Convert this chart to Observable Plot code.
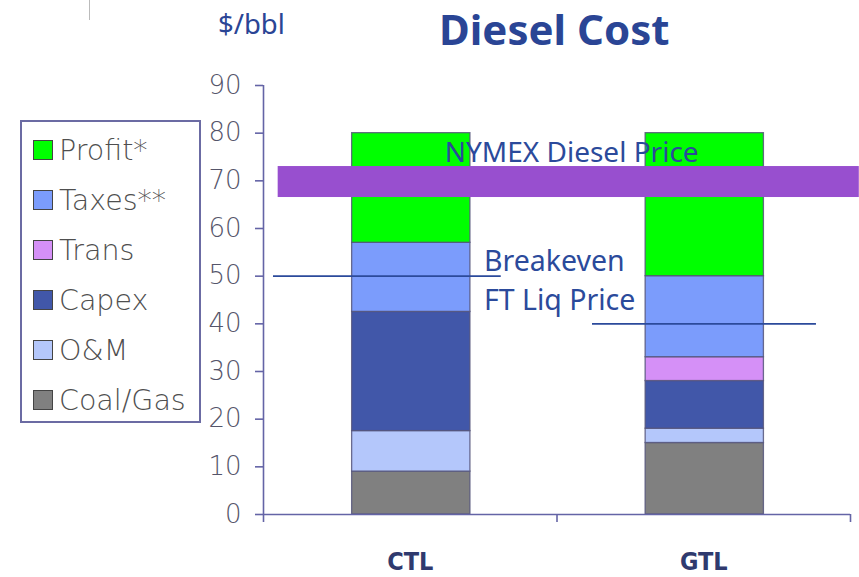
<!DOCTYPE html>
<html>
<head>
<meta charset="utf-8">
<script src="https://cdn.jsdelivr.net/npm/d3@7"></script>
<script src="https://cdn.jsdelivr.net/npm/@observablehq/plot@0.6"></script>
<style>
  html, body { margin: 0; padding: 0; background: #fff; }
  #wrap { position: relative; width: 859px; height: 577px; overflow: hidden; background: #fff; }
  #chart { position: absolute; left: 0; top: 0; }
  .title { position: absolute; font-family: "Noto Sans", sans-serif; color: #2a4595; white-space: nowrap; }
  #legend { position: absolute; left: 20px; top: 120px; width: 177px; height: 299px;
            border: 2px solid #6b6ba3; background: #fff; box-sizing: content-box; }
  .li { position: absolute; left: 11px; height: 30px; display: flex; align-items: center;
        font-family: "DejaVu Sans", sans-serif; font-weight: 200; font-size: 28.5px; color: #4f4f4f; }
  .sw { width: 18px; height: 18px; border: 1.5px solid #444; margin-right: 6px; flex: none; }
</style>
</head>
<body>
<div id="wrap">
  <div id="chart"></div>
  <div style="position:absolute;left:89px;top:0;width:1px;height:20px;background:#bbb"></div>
  <div class="title" style="left:218px;top:5px;font-size:27.5px;">$/bbl</div>
  <div class="title" style="left:439px;top:0px;font-size:42px;font-weight:700;">Diesel Cost</div>
  <div id="legend"></div>
</div>
<script>
// ---- data ----
const categories = ["CTL", "GTL"];
const series = ["Coal/Gas", "O&M", "Capex", "Trans", "Taxes**", "Profit*"];
const ctlValues = [9, 8.5, 25, 0, 14.5, 23];
const gtlValues = [15, 3, 10, 5, 17, 30];
const colors = ["#808080", "#b4c7fb", "#4157a9", "#d590f7", "#7b9cfc", "#00ff00"];
const yTicks = [0, 10, 20, 30, 40, 50, 60, 70, 80, 90];
const nymexRange = [66.5, 73];          // NYMEX Diesel Price band ($/bbl)
const breakevenValues = [50, 40];       // breakeven FT liquid price per category

// ---- build stacked table ----
const valuesByCat = [ctlValues, gtlValues];
const rows = [];
categories.forEach((c, i) => {
  let acc = 0;
  series.forEach((s, j) => {
    const v = valuesByCat[i][j];
    if (v > 0) rows.push({cat: c, idx: i, series: s, y1: acc, y2: acc + v});
    acc += v;
  });
});

const blue = "#2b4a9b";
const axisColor = "#6464a6";

const plot = Plot.plot({
  width: 859,
  height: 577,
  marginLeft: 263,
  marginRight: 9,
  marginTop: 85,
  marginBottom: 63,
  style: {background: "transparent", overflow: "visible"},
  x: {type: "linear", domain: [0, categories.length]},
  y: {domain: [0, 90]},
  color: {domain: series, range: colors},
  marks: [
    Plot.rect(rows, {
      x1: d => d.idx + 0.302, x2: d => d.idx + 0.705,
      y1: "y1", y2: "y2", fill: "series",
      stroke: "#55557a", strokeWidth: 1.3, strokeOpacity: 0.85
    }),
    // NYMEX band
    Plot.rect([nymexRange], {
      x1: 0.05, x2: 2.03, y1: d => d[0], y2: d => d[1], fill: "#984fcf"
    }),
    Plot.text(["NYMEX Diesel Price"], {
      x: 1.05, y: 74.0, text: d => d, fill: blue, fontSize: 28,
      fontFamily: "Noto Sans", textAnchor: "middle", lineAnchor: "bottom"
    }),
    // Breakeven lines
    Plot.ruleY(breakevenValues, {
      y: d => d,
      x1: (d, i) => i === 0 ? 0.034 : 1.121,
      x2: (d, i) => i === 0 ? 0.81 : 1.884,
      stroke: blue, strokeWidth: 1.6
    }),
    Plot.text(["Breakeven\nFT Liq Price"], {
      x: 0.751, y: 49.6, text: d => d, fill: blue, fontSize: 28.5,
      fontFamily: "Noto Sans", textAnchor: "start", lineAnchor: "middle", lineHeight: 1.38
    }),
    // axes
    Plot.ruleX([0], {stroke: axisColor, strokeWidth: 1.6}),
    Plot.ruleY([0], {stroke: axisColor, strokeWidth: 1.6}),
    Plot.axisY({
      ticks: yTicks, tickSize: 8, tickPadding: 14, label: null,
      stroke: axisColor, strokeWidth: 1.6, fill: "#55556a",
      fontSize: 26, fontFamily: "DejaVu Sans", fontWeight: 200
    }),
    Plot.axisX({
      ticks: [0, 1, 2], tickSize: 8, tickFormat: () => "", label: null,
      stroke: axisColor, strokeWidth: 1.6
    }),
    Plot.axisX({
      ticks: categories.map((c, i) => i + 0.5), tickSize: 0, tickPadding: 38,
      tickFormat: d => categories[Math.round(d - 0.5)], label: null,
      fill: "#2f3a6e", fontSize: 25, fontWeight: "bold", fontFamily: "DejaVu Sans Condensed, DejaVu Sans"
    })
  ]
});
document.getElementById("chart").appendChild(plot);

// ---- legend (top item = last series) ----
const legend = document.getElementById("legend");
series.slice().reverse().forEach((s, k) => {
  const j = series.indexOf(s);
  const el = document.createElement("div");
  el.className = "li";
  el.style.top = (13 + k * 50) + "px";
  el.innerHTML = `<span class="sw" style="background:${colors[j]}"></span><span></span>`;
  el.lastChild.textContent = s;
  legend.appendChild(el);
});
</script>
</body>
</html>
